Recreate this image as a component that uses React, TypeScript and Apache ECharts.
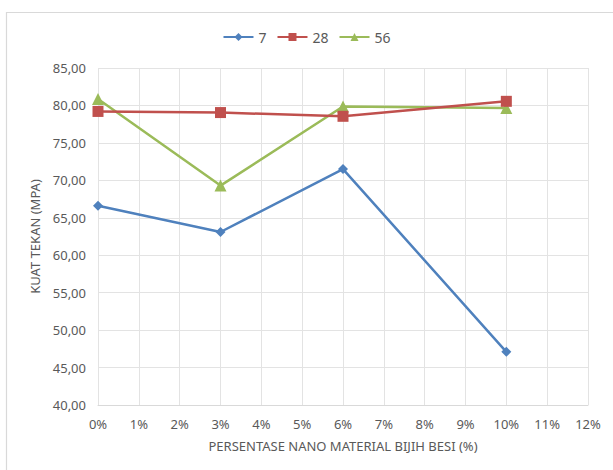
import React, { useEffect, useRef } from "react";
import * as echarts from "echarts";

const xPercent = [0, 3, 6, 10];
const seriesNames = ["7", "28", "56"];
const values7 = [66.6, 63.1, 71.5, 47.1];
const values28 = [79.2, 79.05, 78.55, 80.55];
const values56 = [80.85, 69.3, 79.85, 79.65];
const colors = ["#4F81BD", "#C0504D", "#9BBB59"];
const symbols = ["diamond", "rect", "triangle"];
const symbolSizes = [10, 11, 12];

const FONT = "Noto Sans";

export default function App() {
  const ref = useRef<HTMLDivElement>(null);
  useEffect(() => {
    if (!ref.current) return;
    const chart = echarts.init(ref.current, undefined, { renderer: "svg" });
    const all = [values7, values28, values56];
    chart.setOption({
      animation: false,
      backgroundColor: "#ffffff",
      textStyle: { fontFamily: FONT },
      graphic: [
        {
          type: "polyline",
          shape: { points: [[6.5, 480], [6.5, 12.5], [620, 12.5]] },
          style: { stroke: "#d9d9d9", lineWidth: 1.2, fill: "none" },
        },
      ],
      legend: {
        top: 25,
        left: "center",
        itemWidth: 30,
        itemHeight: 10,
        itemGap: 10,
        textStyle: { color: "#595959", fontSize: 14, fontFamily: FONT },
        data: seriesNames,
      },
      grid: { left: 98, right: 25, top: 68, bottom: 65, containLabel: false },
      xAxis: {
        type: "value",
        min: 0,
        max: 12,
        interval: 1,
        name: "PERSENTASE NANO MATERIAL BIJIH BESI (%)",
        nameLocation: "middle",
        nameGap: 34,
        nameTextStyle: { color: "#595959", fontSize: 13, fontFamily: FONT },
        axisLine: { show: true, lineStyle: { color: "#d9d9d9" } },
        axisTick: { show: false },
        axisLabel: {
          color: "#595959",
          fontSize: 13,
          margin: 12,
          formatter: (v: number) => `${v}%`,
        },
        splitLine: { show: true, lineStyle: { color: "#e3e3e3" } },
      },
      yAxis: {
        type: "value",
        min: 40,
        max: 85,
        interval: 5,
        name: "KUAT TEKAN (MPA)",
        nameLocation: "middle",
        nameGap: 52,
        nameTextStyle: { color: "#595959", fontSize: 13, fontFamily: FONT },
        axisLine: { show: false },
        axisTick: { show: false },
        axisLabel: {
          color: "#595959",
          fontSize: 13,
          margin: 12,
          formatter: (v: number) => v.toFixed(2).replace(".", ","),
        },
        splitLine: { show: true, lineStyle: { color: "#e3e3e3" } },
      },
      series: seriesNames.map((name, i) => ({
        name,
        type: "line",
        data: xPercent.map((x, j) => [x, all[i][j]]),
        symbol: symbols[i],
        symbolSize: symbolSizes[i],
        showAllSymbol: true,
        itemStyle: { color: colors[i] },
        lineStyle: { color: colors[i], width: 2.5 },
        z: 3 - i,
      })),
    });
    return () => chart.dispose();
  }, []);
  return (
    <div
      ref={ref}
      style={{ position: "fixed", left: 0, top: 0, width: 613, height: 470 }}
    />
  );
}
